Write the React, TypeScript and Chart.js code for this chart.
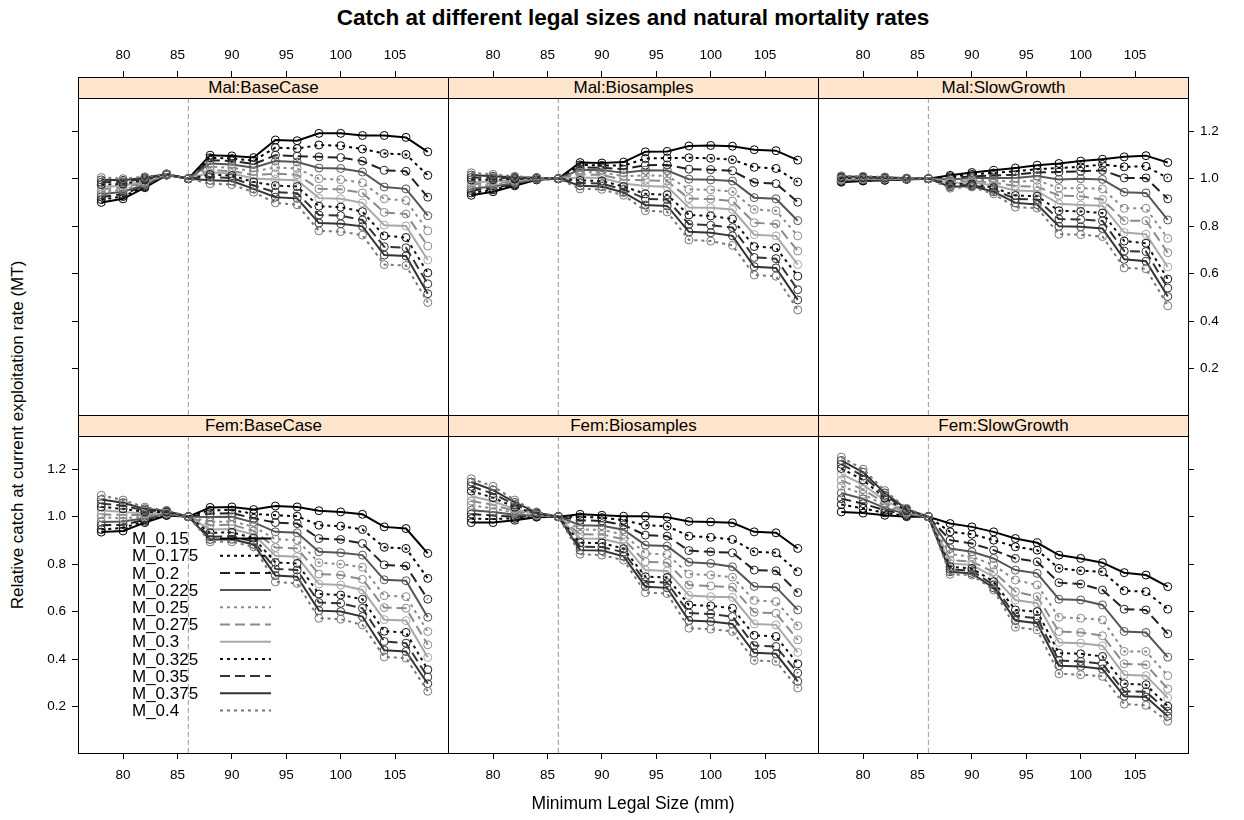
import React, { useEffect, useRef } from 'react';
import { Chart, registerables } from 'chart.js';

Chart.register(...registerables);

// ---------- data ----------
const legalSizes = [78, 80, 82, 84, 86, 88, 90, 92, 94, 96, 98, 100, 102, 104, 106, 108];
const mortalityLabels = ['M_0.15', 'M_0.175', 'M_0.2', 'M_0.225', 'M_0.25', 'M_0.275', 'M_0.3', 'M_0.325', 'M_0.35', 'M_0.375', 'M_0.4'];
const panelTitles = ['Mal:BaseCase', 'Mal:Biosamples', 'Mal:SlowGrowth', 'Fem:BaseCase', 'Fem:Biosamples', 'Fem:SlowGrowth'];
const xTickValues = [80, 85, 90, 95, 100, 105];
const yTickValues = [0.2, 0.4, 0.6, 0.8, 1.0, 1.2];
const referenceSize = 86;

// each row = one legal size (78 ... 108); entries = M_0.15 ... M_0.4
const malBaseCase = [
  [0.900, 0.912, 0.923, 0.934, 0.945, 0.955, 0.965, 0.975, 0.985, 0.995, 1.005],
  [0.915, 0.925, 0.935, 0.945, 0.953, 0.962, 0.970, 0.978, 0.986, 0.993, 1.000],
  [0.962, 0.966, 0.970, 0.975, 0.980, 0.985, 0.990, 0.995, 1.000, 1.004, 1.008],
  [1.015, 1.016, 1.016, 1.017, 1.017, 1.018, 1.018, 1.019, 1.019, 1.020, 1.020],
  [1, 1, 1, 1, 1, 1, 1, 1, 1, 1, 1],
  [1.099, 1.088, 1.078, 1.064, 1.050, 1.035, 1.026, 1.017, 1.007, 0.993, 0.979],
  [1.096, 1.085, 1.075, 1.060, 1.046, 1.032, 1.022, 1.013, 1.003, 0.990, 0.975],
  [1.089, 1.076, 1.061, 1.046, 1.031, 1.016, 1.001, 0.986, 0.971, 0.957, 0.943],
  [1.163, 1.131, 1.099, 1.074, 1.047, 1.021, 0.997, 0.971, 0.943, 0.922, 0.898],
  [1.160, 1.127, 1.095, 1.070, 1.043, 1.017, 0.993, 0.967, 0.939, 0.917, 0.890],
  [1.191, 1.142, 1.092, 1.045, 1.000, 0.957, 0.918, 0.884, 0.847, 0.813, 0.780],
  [1.191, 1.139, 1.089, 1.043, 0.996, 0.955, 0.915, 0.880, 0.844, 0.810, 0.777],
  [1.182, 1.125, 1.074, 1.028, 0.983, 0.940, 0.898, 0.861, 0.826, 0.799, 0.762],
  [1.182, 1.106, 1.035, 0.965, 0.915, 0.858, 0.804, 0.759, 0.713, 0.678, 0.638],
  [1.174, 1.102, 1.031, 0.957, 0.908, 0.851, 0.801, 0.752, 0.709, 0.674, 0.634],
  [1.113, 1.014, 0.922, 0.844, 0.780, 0.716, 0.657, 0.603, 0.557, 0.515, 0.478],
];

const malBiosamples = [
  [0.930, 0.940, 0.950, 0.958, 0.967, 0.976, 0.985, 0.995, 1.005, 1.015, 1.025],
  [0.945, 0.953, 0.960, 0.967, 0.974, 0.981, 0.988, 0.996, 1.003, 1.010, 1.018],
  [0.970, 0.974, 0.978, 0.982, 0.986, 0.990, 0.994, 0.998, 1.002, 1.006, 1.010],
  [0.995, 0.996, 0.997, 0.998, 0.999, 1.000, 1.001, 1.002, 1.003, 1.004, 1.005],
  [1, 1, 1, 1, 1, 1, 1, 1, 1, 1, 1],
  [1.068, 1.058, 1.048, 1.038, 1.028, 1.018, 1.005, 0.993, 0.982, 0.970, 0.957],
  [1.066, 1.056, 1.046, 1.036, 1.026, 1.016, 1.003, 0.990, 0.979, 0.967, 0.955],
  [1.070, 1.055, 1.040, 1.025, 1.010, 0.995, 0.980, 0.967, 0.955, 0.942, 0.930],
  [1.113, 1.085, 1.057, 1.035, 1.014, 0.993, 0.969, 0.936, 0.915, 0.889, 0.865],
  [1.115, 1.087, 1.058, 1.034, 1.012, 0.990, 0.966, 0.932, 0.912, 0.885, 0.860],
  [1.138, 1.088, 1.040, 0.998, 0.955, 0.916, 0.878, 0.847, 0.808, 0.776, 0.742],
  [1.140, 1.086, 1.038, 0.995, 0.953, 0.914, 0.877, 0.843, 0.804, 0.772, 0.737],
  [1.137, 1.080, 1.033, 0.990, 0.946, 0.906, 0.870, 0.830, 0.794, 0.759, 0.719],
  [1.122, 1.048, 0.984, 0.920, 0.870, 0.814, 0.764, 0.714, 0.668, 0.629, 0.594],
  [1.118, 1.043, 0.979, 0.915, 0.865, 0.809, 0.759, 0.709, 0.663, 0.624, 0.589],
  [1.078, 0.986, 0.901, 0.823, 0.759, 0.695, 0.638, 0.589, 0.532, 0.489, 0.447],
];

const malSlowGrowth = [
  [0.985, 0.988, 0.990, 0.993, 0.995, 0.998, 1.000, 1.003, 1.006, 1.009, 1.012],
  [0.990, 0.992, 0.994, 0.996, 0.998, 1.000, 1.002, 1.004, 1.006, 1.008, 1.010],
  [0.993, 0.994, 0.996, 0.997, 0.999, 1.000, 1.002, 1.003, 1.004, 1.006, 1.007],
  [0.997, 0.998, 0.998, 0.999, 0.999, 1.000, 1.000, 1.001, 1.001, 1.002, 1.002],
  [1, 1, 1, 1, 1, 1, 1, 1, 1, 1, 1],
  [1.014, 1.008, 1.002, 0.997, 0.992, 0.987, 0.982, 0.977, 0.972, 0.966, 0.960],
  [1.026, 1.018, 1.010, 1.003, 0.996, 0.990, 0.984, 0.978, 0.973, 0.969, 0.965],
  [1.035, 1.024, 1.013, 1.003, 0.993, 0.983, 0.972, 0.962, 0.954, 0.945, 0.936],
  [1.045, 1.031, 1.017, 1.003, 0.986, 0.969, 0.950, 0.929, 0.915, 0.898, 0.880],
  [1.057, 1.040, 1.026, 1.011, 0.993, 0.966, 0.947, 0.926, 0.912, 0.891, 0.876],
  [1.064, 1.045, 1.028, 0.997, 0.960, 0.929, 0.894, 0.865, 0.830, 0.799, 0.766],
  [1.074, 1.050, 1.031, 1.000, 0.960, 0.926, 0.889, 0.862, 0.828, 0.797, 0.764],
  [1.082, 1.060, 1.035, 0.997, 0.957, 0.912, 0.886, 0.855, 0.822, 0.790, 0.756],
  [1.092, 1.050, 1.003, 0.943, 0.875, 0.823, 0.773, 0.737, 0.695, 0.660, 0.624],
  [1.097, 1.052, 1.003, 0.940, 0.875, 0.823, 0.766, 0.728, 0.693, 0.652, 0.620],
  [1.068, 1.003, 0.915, 0.826, 0.748, 0.688, 0.628, 0.577, 0.539, 0.503, 0.464],
];

const femBaseCase = [
  [0.935, 0.946, 0.964, 0.978, 0.997, 1.010, 1.027, 1.041, 1.055, 1.072, 1.090],
  [0.940, 0.953, 0.966, 0.980, 0.993, 1.007, 1.020, 1.033, 1.046, 1.059, 1.070],
  [0.975, 0.981, 0.987, 0.993, 1.000, 1.007, 1.013, 1.020, 1.027, 1.033, 1.040],
  [1.005, 1.007, 1.009, 1.011, 1.013, 1.015, 1.017, 1.019, 1.021, 1.024, 1.027],
  [1, 1, 1, 1, 1, 1, 1, 1, 1, 1, 1],
  [1.039, 1.027, 1.013, 0.999, 0.978, 0.964, 0.946, 0.932, 0.915, 0.904, 0.894],
  [1.041, 1.028, 1.015, 1.000, 0.980, 0.966, 0.948, 0.934, 0.917, 0.905, 0.894],
  [1.030, 1.012, 0.993, 0.976, 0.958, 0.940, 0.925, 0.910, 0.895, 0.883, 0.873],
  [1.045, 1.006, 0.975, 0.936, 0.905, 0.870, 0.835, 0.807, 0.780, 0.752, 0.725],
  [1.041, 1.002, 0.971, 0.932, 0.901, 0.866, 0.831, 0.803, 0.775, 0.747, 0.719],
  [1.025, 0.964, 0.908, 0.852, 0.806, 0.758, 0.716, 0.674, 0.638, 0.604, 0.572],
  [1.020, 0.960, 0.904, 0.848, 0.800, 0.754, 0.712, 0.670, 0.635, 0.600, 0.568],
  [1.010, 0.946, 0.887, 0.838, 0.787, 0.736, 0.691, 0.652, 0.614, 0.579, 0.544],
  [0.957, 0.871, 0.797, 0.734, 0.667, 0.617, 0.566, 0.517, 0.474, 0.437, 0.409],
  [0.950, 0.866, 0.792, 0.730, 0.663, 0.614, 0.562, 0.512, 0.467, 0.432, 0.404],
  [0.845, 0.740, 0.652, 0.576, 0.516, 0.460, 0.407, 0.355, 0.324, 0.296, 0.264],
];

const femBiosamples = [
  [0.975, 0.992, 1.011, 1.027, 1.048, 1.066, 1.086, 1.108, 1.128, 1.146, 1.160],
  [0.975, 0.990, 1.005, 1.020, 1.035, 1.050, 1.065, 1.080, 1.097, 1.112, 1.128],
  [0.985, 0.993, 1.000, 1.008, 1.016, 1.024, 1.032, 1.040, 1.050, 1.060, 1.070],
  [0.998, 1.000, 1.002, 1.004, 1.006, 1.008, 1.010, 1.012, 1.014, 1.017, 1.020],
  [1, 1, 1, 1, 1, 1, 1, 1, 1, 1, 1],
  [1.010, 0.999, 0.985, 0.964, 0.946, 0.926, 0.908, 0.890, 0.873, 0.859, 0.842],
  [1.006, 0.996, 0.982, 0.962, 0.944, 0.925, 0.907, 0.889, 0.872, 0.857, 0.838],
  [1.002, 0.985, 0.965, 0.945, 0.925, 0.905, 0.885, 0.865, 0.850, 0.833, 0.817],
  [1.002, 0.964, 0.922, 0.880, 0.845, 0.810, 0.775, 0.747, 0.726, 0.705, 0.680],
  [0.998, 0.960, 0.918, 0.876, 0.841, 0.806, 0.771, 0.744, 0.722, 0.700, 0.676],
  [0.980, 0.918, 0.857, 0.808, 0.758, 0.712, 0.668, 0.628, 0.594, 0.562, 0.530],
  [0.978, 0.913, 0.852, 0.803, 0.754, 0.708, 0.663, 0.624, 0.590, 0.558, 0.526],
  [0.974, 0.904, 0.848, 0.789, 0.745, 0.703, 0.660, 0.614, 0.579, 0.548, 0.516],
  [0.936, 0.852, 0.775, 0.706, 0.647, 0.597, 0.548, 0.500, 0.457, 0.426, 0.394],
  [0.932, 0.848, 0.772, 0.703, 0.642, 0.593, 0.544, 0.495, 0.453, 0.422, 0.390],
  [0.866, 0.768, 0.680, 0.607, 0.540, 0.481, 0.428, 0.380, 0.341, 0.306, 0.278],
];

const femSlowGrowth = [
  [1.020, 1.051, 1.076, 1.100, 1.128, 1.153, 1.179, 1.203, 1.221, 1.237, 1.251],
  [1.015, 1.035, 1.055, 1.075, 1.095, 1.115, 1.135, 1.155, 1.172, 1.187, 1.200],
  [1.006, 1.016, 1.027, 1.037, 1.048, 1.058, 1.069, 1.079, 1.090, 1.100, 1.110],
  [1.000, 1.004, 1.007, 1.011, 1.014, 1.018, 1.021, 1.025, 1.028, 1.032, 1.035],
  [1, 1, 1, 1, 1, 1, 1, 1, 1, 1, 1],
  [0.971, 0.936, 0.901, 0.866, 0.842, 0.817, 0.803, 0.789, 0.778, 0.768, 0.757],
  [0.957, 0.926, 0.887, 0.852, 0.831, 0.810, 0.796, 0.782, 0.772, 0.761, 0.754],
  [0.936, 0.901, 0.859, 0.824, 0.796, 0.768, 0.747, 0.726, 0.712, 0.700, 0.691],
  [0.908, 0.873, 0.824, 0.775, 0.733, 0.684, 0.649, 0.607, 0.582, 0.562, 0.534],
  [0.890, 0.859, 0.810, 0.761, 0.712, 0.663, 0.635, 0.600, 0.572, 0.551, 0.523],
  [0.838, 0.782, 0.722, 0.652, 0.576, 0.516, 0.470, 0.425, 0.394, 0.372, 0.338],
  [0.824, 0.772, 0.716, 0.649, 0.572, 0.512, 0.467, 0.422, 0.390, 0.369, 0.334],
  [0.806, 0.768, 0.691, 0.628, 0.565, 0.498, 0.456, 0.411, 0.380, 0.358, 0.327],
  [0.764, 0.688, 0.610, 0.516, 0.432, 0.380, 0.334, 0.296, 0.264, 0.243, 0.210],
  [0.754, 0.684, 0.607, 0.512, 0.432, 0.376, 0.330, 0.292, 0.262, 0.240, 0.205],
  [0.705, 0.610, 0.506, 0.408, 0.330, 0.274, 0.236, 0.201, 0.180, 0.159, 0.138],
];

const panelValues = [malBaseCase, malBiosamples, malSlowGrowth, femBaseCase, femBiosamples, femSlowGrowth];

// ---------- styles ----------
const seriesColors = ['#000000', '#000000', '#222222', '#555555', '#8a8a8a', '#8a8a8a', '#a8a8a8', '#111111', '#333333', '#333333', '#777777'];
const seriesDashes = ['solid', 'dotted', 'dashed', 'solid', 'dotted', 'dashed', 'solid', 'dotted', 'dashed', 'solid', 'dotted'];
const dashPatterns: Record<string, number[]> = { solid: [], dotted: [3, 4], dashed: [10, 5] };

const FONT = '"Liberation Sans", Arial, Helvetica, sans-serif';
Chart.defaults.font.family = FONT;

// ---------- layout ----------
const PANEL_LEFT = 78;
const PANEL_W = 370;
const ROW_TOP = 77;
const STRIP_H = 21;
const PLOT_H = 317;
const PANEL_H = STRIP_H + PLOT_H;
const X_MIN = 75.86;
const X_MAX = X_MIN + 34.0;
const Y_MIN = 0.004;
const Y_PLOT_MAX = 1.34;
const Y_MAX = Y_PLOT_MAX + ((Y_PLOT_MAX - Y_MIN) * STRIP_H) / PLOT_H;
const TICK_FONT = { size: 13.5, family: FONT };

const panelFrame = {
  id: 'panelFrame',
  afterDraw(chart: any) {
    const { ctx, chartArea: a } = chart;
    ctx.save();
    ctx.strokeStyle = '#000';
    ctx.lineWidth = 1;
    ctx.setLineDash([]);
    ctx.strokeRect(a.left + 0.5, a.top + 0.5, a.right - a.left, a.bottom - a.top);
    ctx.restore();
  },
};

const mortalityLegend = {
  id: 'mortalityLegend',
  afterDatasetsDraw(chart: any, _args: any, opts: any) {
    if (!opts || !opts.show) return;
    const { ctx, chartArea: a } = chart;
    ctx.save();
    ctx.font = '17px ' + FONT;
    ctx.textBaseline = 'middle';
    ctx.textAlign = 'left';
    mortalityLabels.forEach((label, s) => {
      const y = a.top + 124.5 + s * 17.2;
      ctx.fillStyle = '#000';
      ctx.fillText(label, a.left + 54, y);
      ctx.beginPath();
      ctx.setLineDash(dashPatterns[seriesDashes[s]]);
      ctx.strokeStyle = seriesColors[s];
      ctx.lineWidth = 2;
      ctx.moveTo(a.left + 142, y - 1);
      ctx.lineTo(a.left + 193, y - 1);
      ctx.stroke();
    });
    ctx.restore();
  },
};

const zeroPadding = (s: any) => {
  s.paddingTop = 0;
  s.paddingBottom = 0;
  s.paddingLeft = 0;
  s.paddingRight = 0;
};

function Panel({ index }: { index: number }) {
  const ref = useRef<HTMLCanvasElement>(null);
  const row = Math.floor(index / 3);
  const col = index % 3;
  const L = col === 0 ? (row === 1 ? 44 : 8) : 0;
  const R = col === 2 ? (row === 0 ? 48 : 8) : 0;
  const T = row === 0 ? 34 : 0;
  const B = row === 1 ? 34 : 0;
  const plotLeft = PANEL_LEFT + col * PANEL_W;
  const chartTop = ROW_TOP + row * PANEL_H;
  const width = L + PANEL_W + R + 1;
  const height = T + PANEL_H + B + 1;

  useEffect(() => {
    if (!ref.current) return;
    const values = panelValues[index];
    const datasets: any[] = mortalityLabels.map((label, s) => ({
      label,
      data: legalSizes.map((x, k) => ({ x, y: values[k][s] })),
      borderColor: seriesColors[s],
      borderWidth: 2,
      borderDash: dashPatterns[seriesDashes[s]],
      pointRadius: 4,
      pointBorderWidth: 1,
      pointBorderColor: seriesColors[s],
      pointBackgroundColor: 'rgba(0,0,0,0)',
      pointStyle: 'circle',
      tension: 0,
      fill: false,
      order: 20 - s,
    }));
    datasets.push({
      label: 'reference',
      data: [
        { x: referenceSize, y: Y_MIN },
        { x: referenceSize, y: Y_PLOT_MAX },
      ],
      borderColor: '#999999',
      borderWidth: 1,
      borderDash: [5, 3],
      pointRadius: 0,
      fill: false,
      order: 100,
    });

    const xAxis = (position: string, show: boolean, size: number) => ({
      type: 'linear',
      position,
      display: show,
      min: X_MIN,
      max: X_MAX,
      afterBuildTicks: (s: any) => {
        s.ticks = xTickValues.map((v) => ({ value: v }));
      },
      afterFit: (s: any) => {
        s.height = size;
        zeroPadding(s);
      },
      ticks: {
        display: true,
        font: TICK_FONT,
        color: '#000',
        padding: 8,
        maxRotation: 0,
        autoSkip: false,
        callback: (v: any) => String(v),
      },
      grid: { display: true, drawOnChartArea: false, drawTicks: true, tickLength: 6, color: '#000', lineWidth: 1 },
      border: { display: false },
    });
    const yAxis = (position: string, show: boolean, labels: boolean, size: number) => ({
      type: 'linear',
      position,
      display: show,
      min: Y_MIN,
      max: Y_MAX,
      afterBuildTicks: (s: any) => {
        s.ticks = yTickValues.map((v) => ({ value: v }));
      },
      afterFit: (s: any) => {
        s.width = size;
        zeroPadding(s);
      },
      ticks: {
        display: labels,
        font: TICK_FONT,
        color: '#000',
        padding: 6,
        autoSkip: false,
        callback: (v: any) => Number(v).toFixed(1),
      },
      grid: { display: true, drawOnChartArea: false, drawTicks: true, tickLength: 6, color: '#000', lineWidth: 1 },
      border: { display: false },
    });

    const chart = new Chart(ref.current, {
      type: 'line',
      data: { datasets },
      options: {
        responsive: false,
        animation: false,
        devicePixelRatio: 1,
        events: [],
        layout: { padding: { left: 0, top: 0, right: 1, bottom: 1 }, autoPadding: false },
        scales: {
          x: xAxis('bottom', row === 1, B),
          x2: xAxis('top', row === 0, T),
          y: yAxis('left', col === 0, row === 1, L),
          y2: yAxis('right', col === 2, row === 0, R),
        },
        plugins: {
          legend: { display: false },
          tooltip: { enabled: false },
          mortalityLegend: { show: index === 3 },
        },
      } as any,
      plugins: [panelFrame, mortalityLegend],
    } as any);
    return () => chart.destroy();
  }, [index]);

  return (
    <canvas
      ref={ref}
      width={width}
      height={height}
      style={{ position: 'absolute', left: plotLeft - L, top: chartTop - T, width, height }}
    />
  );
}

export default function App() {
  return (
    <div
      style={{
        position: 'absolute',
        left: 0,
        top: 0,
        width: 1244,
        height: 820,
        background: '#ffffff',
        fontFamily: FONT,
        color: '#000',
        overflow: 'hidden',
      }}
    >
      <div
        style={{
          position: 'absolute',
          left: 633,
          top: 6,
          transform: 'translateX(-50%)',
          fontSize: 22.5,
          fontWeight: 'bold',
          lineHeight: '24px',
          whiteSpace: 'nowrap',
        }}
      >
        Catch at different legal sizes and natural mortality rates
      </div>
      {panelTitles.map((t, i) => (
        <Panel key={'p' + i} index={i} />
      ))}
      {panelTitles.map((t, i) => {
        const row = Math.floor(i / 3);
        const col = i % 3;
        return (
          <div
            key={'s' + i}
            style={{
              position: 'absolute',
              left: PANEL_LEFT + col * PANEL_W,
              top: ROW_TOP + row * PANEL_H,
              width: PANEL_W + 1,
              height: STRIP_H + 1,
              boxSizing: 'border-box',
              border: '1px solid #000',
              background: '#ffe5cc',
              fontSize: 17,
              lineHeight: STRIP_H - 1 + 'px',
              textAlign: 'center',
              whiteSpace: 'nowrap',
            }}
          >
            {t}
          </div>
        );
      })}
      <div
        style={{
          position: 'absolute',
          left: 633,
          top: 792,
          transform: 'translateX(-50%)',
          fontSize: 17.5,
          lineHeight: '22px',
          whiteSpace: 'nowrap',
        }}
      >
        Minimum Legal Size (mm)
      </div>
      <div
        style={{
          position: 'absolute',
          left: 18,
          top: 435,
          transform: 'translate(-50%, -50%) rotate(-90deg)',
          fontSize: 17,
          lineHeight: '22px',
          whiteSpace: 'nowrap',
        }}
      >
        Relative catch at current exploitation rate (MT)
      </div>
    </div>
  );
}
